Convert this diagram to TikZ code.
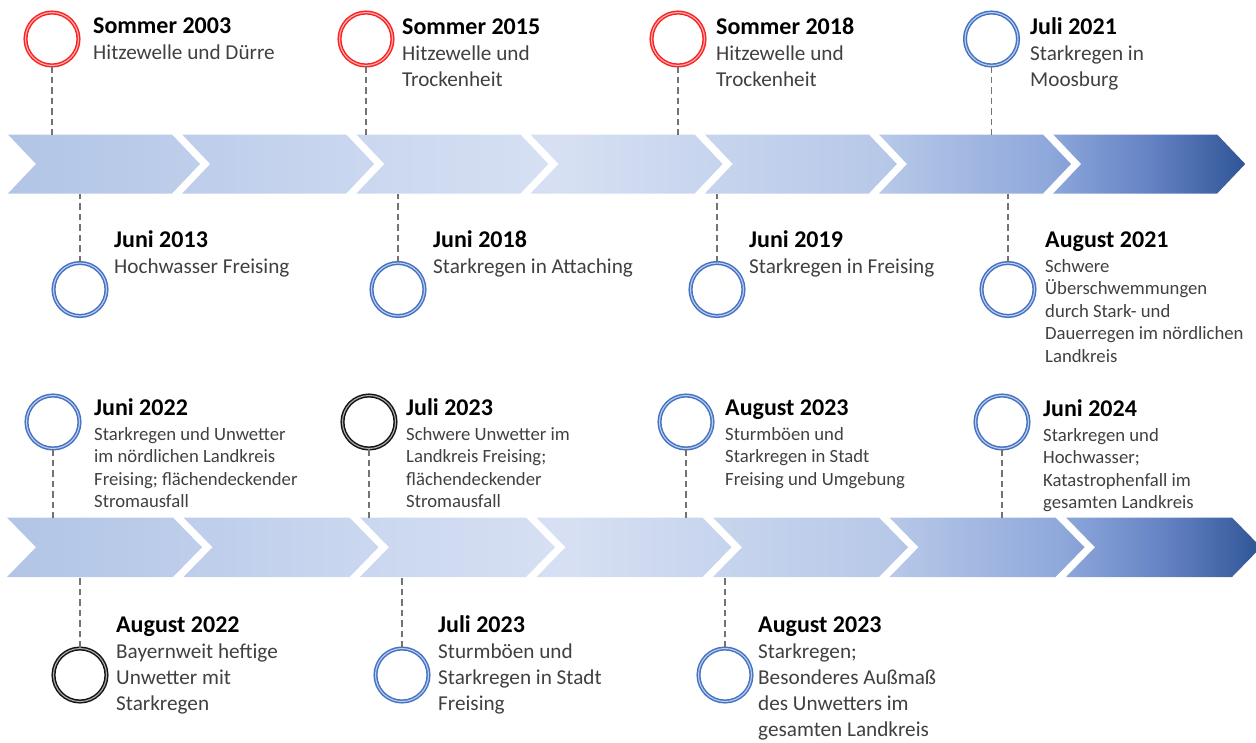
\documentclass[tikz,border=0pt]{standalone}
\usepackage{fontspec}
\setmainfont{Carlito}
\usepackage{tikz}
\usetikzlibrary{positioning}

\definecolor{tlA}{RGB}{178,197,230}
\definecolor{tlB}{RGB}{190,206,235}
\definecolor{tlC}{RGB}{205,217,240}
\definecolor{tlD}{RGB}{215,224,243}
\definecolor{tlE}{RGB}{200,213,238}
\definecolor{tlF}{RGB}{183,200,232}
\definecolor{tlG}{RGB}{142,168,219}
\definecolor{tlH}{RGB}{100,130,195}
\definecolor{tlI}{RGB}{47,85,151}
\definecolor{ringred}{RGB}{250,35,35}
\definecolor{ringblue}{RGB}{68,114,196}
\definecolor{ringblack}{RGB}{20,20,20}
\definecolor{stemgrey}{RGB}{115,115,115}
\definecolor{txtgrey}{RGB}{64,64,64}

\pgfdeclarehorizontalshading{tlshade}{100bp}{color(0bp)=(tlA); color(25bp)=(tlA); color(32.8bp)=(tlB); color(40.9bp)=(tlC); color(47.3bp)=(tlD); color(53bp)=(tlE); color(60.3bp)=(tlF); color(67.1bp)=(tlG); color(71.2bp)=(tlH); color(75bp)=(tlI); color(100bp)=(tlI)}

\begin{document}
\begin{tikzpicture}[x=1pt, y=-1pt,
  ring/.style={circle, draw=#1, double=#1!35, line width=1.5pt, double distance=1.1pt, minimum size=53pt, inner sep=0pt},
  dashline/.style={draw=stemgrey, line width=1.4pt, dash pattern=on 6.5pt off 4pt},
  head/.style={anchor=base west, inner sep=0pt, font=\fontsize{24}{29}\selectfont\bfseries, text=black},
  bodyL/.style={inner sep=0pt, align=left, font=\fontsize{21.2}{26}\selectfont, text=txtgrey},
  bodyS/.style={inner sep=0pt, align=left, font=\fontsize{18.7}{22.5}\selectfont, text=txtgrey}]

\useasboundingbox (0,0) rectangle (1256,742);

% the two arrow rows
\path[shading=tlshade] \foreach \i in {0,...,6}{
  ({8+174.2*\i},134.5) -- ++(164,0) -- ++(28,29.5) -- ++(-28,29.5) -- ++(-164,0) -- ++(28,-29.5) -- cycle};
\path[shading=tlshade] \foreach \i in {0,...,6}{
  ({7+176.5*\i},517.5) -- ++(166,0) -- ++(29,29.75) -- ++(-29,29.75) -- ++(-166,0) -- ++(29,-29.75) -- cycle};

\coordinate (rowAtop) at (0,134.5);
\coordinate (rowAbot) at (0,193.5);
\coordinate (rowBtop) at (0,517.5);
\coordinate (rowBbot) at (0,577);

% first row, above
\node[ring=ringred] (c1) at (52,39) {};
\node[head] (h1) at (93,33.5) {Sommer 2003};
\node[bodyL, below=7.8pt of h1.base west, anchor=north west] (b1) {\strut Hitzewelle und Dürre};
\draw[dashline] (c1) -- (c1 |- rowAtop);

\node[ring=ringred] (c2) at (366,39) {};
\node[head] (h2) at (402,34) {Sommer 2015};
\node[bodyL, below=7.8pt of h2.base west, anchor=north west] (b2) {\strut Hitzewelle und\\Trockenheit};
\draw[dashline] (c2) -- (c2 |- rowAtop);

\node[ring=ringred] (c3) at (678,39) {};
\node[head] (h3) at (716,34) {Sommer 2018};
\node[bodyL, below=7.8pt of h3.base west, anchor=north west] (b3) {\strut Hitzewelle und\\Trockenheit};
\draw[dashline] (c3) -- (c3 |- rowAtop);

\node[ring=ringblue] (c4) at (991.5,39) {};
\node[head] (h4) at (1030,34) {Juli 2021};
\node[bodyL, below=7.8pt of h4.base west, anchor=north west] (b4) {\strut Starkregen in\\Moosburg};
\draw[dashline] (c4) -- (c4 |- rowAtop);

% first row, below
\node[ring=ringblue] (c5) at (80,289.5) {};
\node[head] (h5) at (114,247) {Juni 2013};
\node[bodyL, below=7.8pt of h5.base west, anchor=north west] (b5) {\strut Hochwasser Freising};
\draw[dashline] (c5) -- (c5 |- rowAbot);

\node[ring=ringblue] (c6) at (398,289.5) {};
\node[head] (h6) at (433,247) {Juni 2018};
\node[bodyL, below=7.8pt of h6.base west, anchor=north west] (b6) {\strut Starkregen in Attaching};
\draw[dashline] (c6) -- (c6 |- rowAbot);

\node[ring=ringblue] (c7) at (717,289.5) {};
\node[head] (h7) at (749,247) {Juni 2019};
\node[bodyL, below=7.8pt of h7.base west, anchor=north west] (b7) {\strut Starkregen in Freising};
\draw[dashline] (c7) -- (c7 |- rowAbot);

\node[ring=ringblue] (c8) at (1008,289.5) {};
\node[head] (h8) at (1045,247) {August 2021};
\node[bodyS, below=9.3pt of h8.base west, anchor=north west] (b8) {\strut Schwere\\Überschwemmungen\\durch Stark- und\\Dauerregen im nördlichen\\Landkreis};
\draw[dashline] (c8) -- (c8 |- rowAbot);

% second row, above
\node[ring=ringblue] (c9) at (53,422) {};
\node[head] (h9) at (94,415) {Juni 2022};
\node[bodyS, below=9.3pt of h9.base west, anchor=north west] (b9) {\strut Starkregen und Unwetter\\im nördlichen Landkreis\\Freising; flächendeckender\\Stromausfall};
\draw[dashline] (c9) -- (c9 |- rowBtop);

\node[ring=ringblack] (c10) at (369,422) {};
\node[head] (h10) at (406,415) {Juli 2023};
\node[bodyS, below=9.3pt of h10.base west, anchor=north west] (b10) {\strut Schwere Unwetter im\\Landkreis Freising;\\flächendeckender\\Stromausfall};
\draw[dashline] (c10) -- (c10 |- rowBtop);

\node[ring=ringblue] (c11) at (686,422) {};
\node[head] (h11) at (725,415) {August 2023};
\node[bodyS, below=9.3pt of h11.base west, anchor=north west] (b11) {\strut Sturmböen und\\Starkregen in Stadt\\Freising und Umgebung};
\draw[dashline] (c11) -- (c11 |- rowBtop);

\node[ring=ringblue] (c12) at (1002,422) {};
\node[head] (h12) at (1043,416) {Juni 2024};
\node[bodyS, below=9.3pt of h12.base west, anchor=north west] (b12) {\strut Starkregen und\\Hochwasser;\\Katastrophenfall im\\gesamten Landkreis};
\draw[dashline] (c12) -- (c12 |- rowBtop);

% second row, below
\node[ring=ringblack] (c13) at (80,675) {};
\node[head] (h13) at (116,632) {August 2022};
\node[bodyL, below=7.8pt of h13.base west, anchor=north west] (b13) {\strut Bayernweit heftige\\Unwetter mit\\Starkregen};
\draw[dashline] (c13) -- (c13 |- rowBbot);

\node[ring=ringblue] (c14) at (402,675) {};
\node[head] (h14) at (438,632) {Juli 2023};
\node[bodyL, below=7.8pt of h14.base west, anchor=north west] (b14) {\strut Sturmböen und\\Starkregen in Stadt\\Freising};
\draw[dashline] (c14) -- (c14 |- rowBbot);

\node[ring=ringblue] (c15) at (725,675) {};
\node[head] (h15) at (758,632) {August 2023};
\node[bodyL, below=7.8pt of h15.base west, anchor=north west] (b15) {\strut Starkregen;\\Besonderes Außmaß\\des Unwetters im\\gesamten Landkreis};
\draw[dashline] (c15) -- (c15 |- rowBbot);

\end{tikzpicture}
\end{document}
